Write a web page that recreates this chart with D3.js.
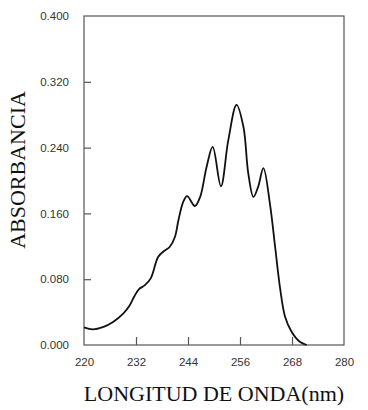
<!DOCTYPE html>
<html><head><meta charset="utf-8">
<script src="https://cdn.jsdelivr.net/npm/d3@7"></script>
<style>body{margin:0;background:#fff}</style>
</head><body>
<svg id="c" width="368" height="410"></svg>
<script>
const wavelength = [220,222,224.5,226.7,229.1,230.6,231.6,232.7,234,235.4,237.1,238.4,239.8,241,241.8,242.9,243.8,245.6,246.8,248.3,249.7,251.6,253.3,255.2,256.8,257.9,259.1,260.2,261.4,262.9,264.1,265.2,266.4,267.9,269.8,271.4];
const absorbance = [0.0215,0.019,0.022,0.028,0.0385,0.0486,0.059,0.068,0.0725,0.081,0.107,0.114,0.1195,0.1317,0.152,0.174,0.181,0.169,0.180,0.2168,0.241,0.193,0.249,0.292,0.265,0.209,0.180,0.1925,0.215,0.172,0.1195,0.071,0.0344,0.0162,0.004,0.0];
const xTicks = [220,232,244,256,268,280];
const yTicks = [0,0.08,0.16,0.24,0.32,0.40];

const L=84,R=344,T=16,B=345;
const svg=d3.select("#c");
const x=d3.scaleLinear().domain([220,280]).range([L,R]);
const y=d3.scaleLinear().domain([0,0.4]).range([B,T]);
const axisCol="#555";

svg.append("rect").attr("x",L).attr("y",T).attr("width",R-L).attr("height",B-T)
  .attr("fill","none").attr("stroke",axisCol).attr("stroke-width",1.2);

const xa=svg.append("g").attr("transform",`translate(0,${B})`)
  .call(d3.axisBottom(x).tickValues(xTicks).tickSize(-8).tickPadding(13).tickFormat(d3.format("d")));
const ya=svg.append("g").attr("transform",`translate(${L},0)`)
  .call(d3.axisLeft(y).tickValues(yTicks).tickSize(-7).tickPadding(15).tickFormat(d3.format(".3f")));
[xa,ya].forEach(g=>{
  g.select(".domain").remove();
  g.selectAll(".tick line").attr("stroke",axisCol).attr("stroke-width",1.2);
  g.selectAll(".tick text").attr("fill","#333").style("font-family","Liberation Sans, Arial, sans-serif").style("font-size","11.5px");
});
xa.selectAll(".tick").filter(d=>d===220||d===280).select("line").remove();
ya.selectAll(".tick").filter(d=>d===0||d===0.4).select("line").remove();

const pts=wavelength.map((w,i)=>[w,absorbance[i]]);
svg.append("path").datum(pts)
  .attr("d",d3.line().x(d=>x(d[0])).y(d=>y(d[1])).curve(d3.curveCatmullRom.alpha(0.5)))
  .attr("fill","none").attr("stroke","#111").attr("stroke-width",1.8);

svg.append("text").attr("x",(L+R)/2).attr("y",401).attr("text-anchor","middle")
  .style("font-family","Liberation Serif, Times New Roman, serif").style("font-size","22px").attr("fill","#111")
  .text("LONGITUD DE ONDA(nm)");
svg.append("text").attr("transform","translate(25,170) rotate(-90)").attr("text-anchor","middle")
  .style("font-family","Liberation Serif, Times New Roman, serif").style("font-size","22px").attr("fill","#111")
  .text("ABSORBANCIA");
</script>
</body></html>
